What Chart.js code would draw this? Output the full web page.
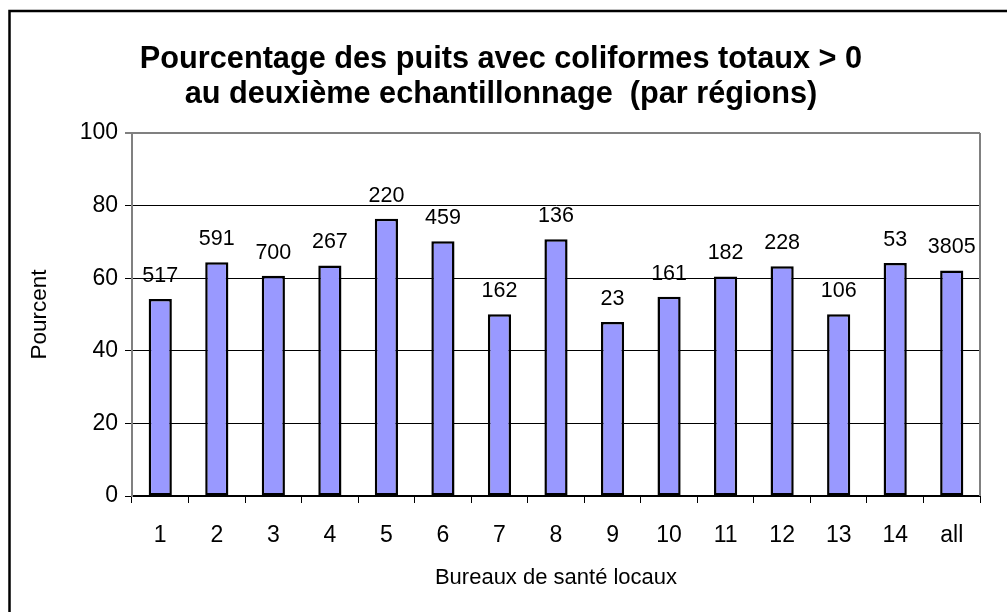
<!DOCTYPE html>
<html>
<head>
<meta charset="utf-8">
<script src="https://cdn.jsdelivr.net/npm/chart.js@4/dist/chart.umd.min.js"></script>
<style>
  html, body { margin: 0; padding: 0; background: #fff; }
  #wrap { width: 1007px; height: 612px; position: relative; }
</style>
</head>
<body>
<div id="wrap"><canvas id="chart"></canvas></div>
<script>
const categories = ['1', '2', '3', '4', '5', '6', '7', '8', '9', '10', '11', '12', '13', '14', 'all'];
const percentValues = [54.3, 64.4, 60.7, 63.5, 76.4, 70.2, 50.1, 70.7, 47.9, 54.9, 60.5, 63.3, 50.1, 64.2, 62.1];
const wellCounts = ['517', '591', '700', '267', '220', '459', '162', '136', '23', '161', '182', '228', '106', '53', '3805'];
const yTicks = [0, 20, 40, 60, 80, 100];

const FONT = 'Liberation Sans, Arial, sans-serif';

// frame round the chart (only top and left are visible in the picture)
const framePlugin = {
  id: 'frame',
  beforeDraw(chart) {
    const ctx = chart.ctx;
    ctx.save();
    ctx.fillStyle = '#fff';
    ctx.fillRect(0, 0, chart.width, chart.height);
    ctx.strokeStyle = '#000';
    ctx.lineWidth = 2.5;
    ctx.beginPath();
    ctx.moveTo(9.5, chart.height);
    ctx.lineTo(9.5, 11);
    ctx.lineTo(chart.width, 11);
    ctx.stroke();
    ctx.restore();
  },
  afterDraw(chart) {
    // gray right side of the plot area
    const { ctx, chartArea } = chart;
    ctx.save();
    ctx.strokeStyle = '#808080';
    ctx.lineWidth = 2;
    ctx.beginPath();
    ctx.moveTo(chartArea.right, chartArea.top);
    ctx.lineTo(chartArea.right, chartArea.bottom);
    ctx.stroke();
    ctx.restore();
  }
};

// well counts written above each bar
const countLabels = {
  id: 'countLabels',
  afterDatasetsDraw(chart) {
    const ctx = chart.ctx;
    const meta = chart.getDatasetMeta(0);
    ctx.save();
    ctx.font = '21.5px ' + FONT;
    ctx.fillStyle = '#000';
    ctx.textAlign = 'center';
    ctx.textBaseline = 'middle';
    meta.data.forEach((bar, i) => {
      ctx.fillText(wellCounts[i], bar.x, bar.y - 23);
    });
    ctx.restore();
  }
};

new Chart(document.getElementById('chart'), {
  type: 'bar',
  data: {
    labels: categories,
    datasets: [{
      data: percentValues,
      backgroundColor: '#9999FF',
      borderColor: '#000',
      borderWidth: 2.5,
      borderSkipped: false,
      categoryPercentage: 1,
      barPercentage: 0.41
    }]
  },
  options: {
    responsive: true,
    maintainAspectRatio: false,
    animation: false,
    layout: { padding: { left: 22, right: 27, top: 0, bottom: 0 } },
    plugins: {
      legend: { display: false },
      tooltip: { enabled: false },
      title: {
        display: true,
        text: ['Pourcentage des puits avec coliformes totaux > 0', 'au deuxième echantillonnage  (par régions)'],
        color: '#000',
        font: { family: FONT, size: 30.7, weight: 'bold', lineHeight: 1.14 },
        padding: { top: 42, bottom: 21 }
      }
    },
    scales: {
      x: {
        grid: { display: true, drawOnChartArea: false, offset: true, tickLength: 7, color: '#000', lineWidth: 1 },
        border: { display: true, color: '#000', width: 2 },
        ticks: { color: '#000', font: { family: FONT, size: 23 }, padding: 19, maxRotation: 0 },
        title: {
          display: true,
          text: 'Bureaux de santé locaux',
          color: '#000',
          font: { family: FONT, size: 22 },
          padding: { top: 0, bottom: 21 }
        },
        afterFit(scale) { scale.height = 116; }
      },
      y: {
        min: 0,
        max: 100,
        afterBuildTicks(scale) { scale.ticks = yTicks.map(v => ({ value: v })); },
        grid: {
          tickLength: 7,
          color: ctx => (ctx.tick && ctx.tick.value === 100 ? '#808080' : '#000'),
          lineWidth: ctx => (ctx.tick && ctx.tick.value === 100 ? 2 : 1)
        },
        border: { display: true, color: '#808080', width: 2 },
        ticks: { color: '#000', font: { family: FONT, size: 23 }, padding: 7 },
        title: {
          display: true,
          text: 'Pourcent',
          color: '#000',
          font: { family: FONT, size: 22.5 },
          padding: { top: 4, bottom: 0 }
        },
        afterFit(scale) { scale.width = 110; }
      }
    }
  },
  plugins: [framePlugin, countLabels]
});
</script>
</body>
</html>
